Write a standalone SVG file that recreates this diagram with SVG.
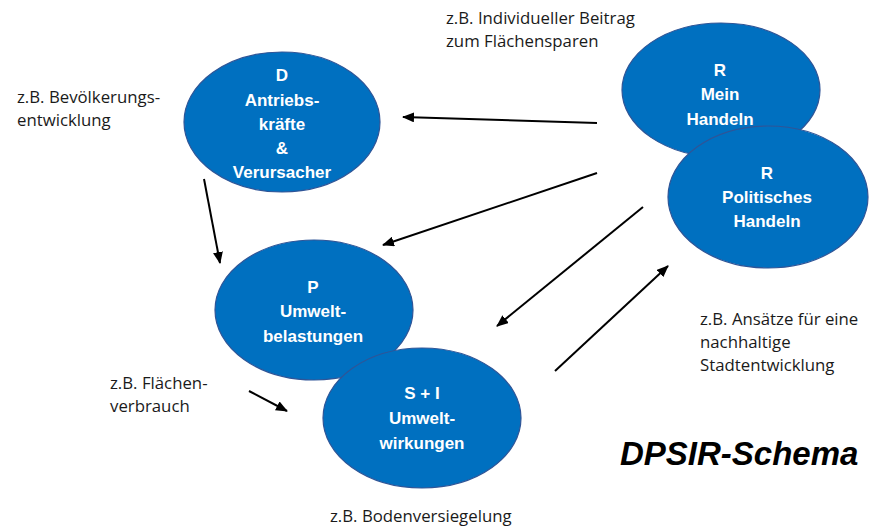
<svg xmlns="http://www.w3.org/2000/svg" width="881" height="529" viewBox="0 0 881 529">
<style>
.node ellipse{fill:#0070C0;stroke:#2F5597;stroke-width:1.2}
.node text{fill:#fff;font-family:"Liberation Sans",Arial,sans-serif;font-weight:bold;font-size:17px;text-anchor:middle}
.lbl{fill:#1a1a1a;font-family:"Open Sans","Liberation Sans",Arial,sans-serif;font-size:16.8px}
.conn line{stroke:#000;stroke-width:2;marker-end:url(#ah)}
.title{fill:#000;font-family:"Liberation Sans",Arial,sans-serif;font-weight:bold;font-style:italic;font-size:33px}
</style>
<defs>
<marker id="ah" viewBox="0 0 12 10" refX="11" refY="5" markerWidth="6" markerHeight="5" orient="auto" markerUnits="strokeWidth">
<path d="M0,0 L12,5 L0,10 z" fill="#000"/>
</marker>
</defs>
<rect width="881" height="529" fill="#fff"/>
<g id="node-D" class="node">
<ellipse cx="282" cy="122" rx="98" ry="70"/>
<text x="282" y="81">D</text>
<text x="282" y="106">Antriebs-</text>
<text x="282" y="130">kräfte</text>
<text x="282" y="154">&amp;</text>
<text x="282" y="178">Verursacher</text>
</g>
<g id="node-P" class="node">
<ellipse cx="314" cy="310" rx="99" ry="70"/>
<text x="313" y="293">P</text>
<text x="313" y="317">Umwelt-</text>
<text x="313" y="342">belastungen</text>
</g>
<g id="node-SI" class="node">
<ellipse cx="422" cy="418" rx="99" ry="70"/>
<text x="422" y="399">S + I</text>
<text x="422" y="424">Umwelt-</text>
<text x="422" y="449">wirkungen</text>
</g>
<g id="node-R1" class="node">
<ellipse cx="721" cy="90" rx="99" ry="67"/>
<text x="720" y="76">R</text>
<text x="720" y="100">Mein</text>
<text x="720" y="125">Handeln</text>
</g>
<g id="node-R2" class="node">
<ellipse cx="768" cy="197" rx="100" ry="71"/>
<text x="767" y="179">R</text>
<text x="767" y="203">Politisches</text>
<text x="767" y="227">Handeln</text>
</g>
<g id="connectors" class="conn">
<line x1="597" y1="123" x2="403" y2="117"/>
<line x1="597" y1="173" x2="383" y2="245"/>
<line x1="643" y1="207" x2="497" y2="326"/>
<line x1="555" y1="371" x2="668" y2="266"/>
<line x1="204" y1="179" x2="220" y2="263"/>
<line x1="249" y1="391" x2="287" y2="411"/>
</g>
<g id="labels">
<text class="lbl" x="446" y="24">z.B. Individueller Beitrag</text>
<text class="lbl" x="446" y="47">zum Flächensparen</text>
<text class="lbl" x="17" y="103">z.B. Bevölkerungs-</text>
<text class="lbl" x="17" y="126">entwicklung</text>
<text class="lbl" x="700" y="325">z.B. Ansätze für eine</text>
<text class="lbl" x="700" y="348">nachhaltige</text>
<text class="lbl" x="700" y="371">Stadtentwicklung</text>
<text class="lbl" x="110" y="389">z.B. Flächen-</text>
<text class="lbl" x="110" y="412">verbrauch</text>
<text class="lbl" x="330" y="522">z.B. Bodenversiegelung</text>
<text class="title" x="620" y="465">DPSIR-Schema</text>
</g>
</svg>
